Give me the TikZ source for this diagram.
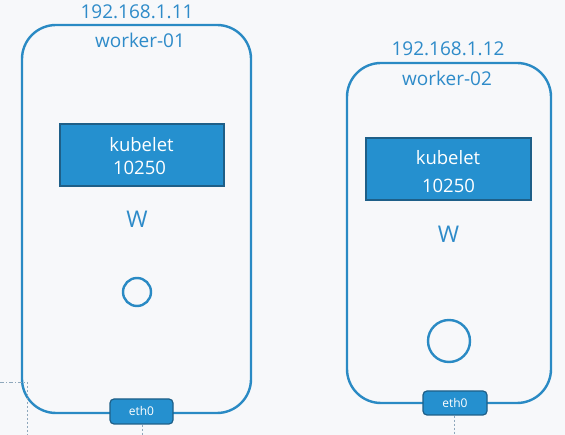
\documentclass[tikz,border=0pt]{standalone}
\usepackage{fontspec}
\setmainfont{Open Sans}
\definecolor{bg}{HTML}{F7F8FA}
\definecolor{line}{HTML}{2A8AC4}
\definecolor{txt}{HTML}{2E8BC9}
\definecolor{kfill}{HTML}{2590CF}
\definecolor{kedge}{HTML}{1E5F88}
\definecolor{dash}{HTML}{8FA8BC}
\tikzset{
  worker/.style={draw=line, line width=2.4pt, rounded corners=34pt, inner sep=0pt},
  kube/.style={draw=kedge, line width=1.2pt, fill=kfill, inner sep=0pt},
  eth/.style={draw=kedge, line width=1.2pt, fill=kfill, rounded corners=4pt, inner sep=0pt,
    text=white, font=\fontsize{12}{14}\selectfont},
  lbl/.style={text=txt, font=\fontsize{19}{22}\selectfont, anchor=base, inner sep=0pt},
  klbl/.style={text=white, font=\fontsize{18.5}{22}\selectfont, anchor=base, inner sep=0pt},
  wlbl/.style={text=txt, font=\fontsize{23}{26}\selectfont, anchor=base, inner sep=0pt},
  pod/.style={draw=line, line width=2.4pt, circle, inner sep=0pt},
  net/.style={draw=dash, line width=0.8pt, dash pattern=on 2pt off 2pt},
}
\begin{document}
\begin{tikzpicture}[x=1pt,y=-1pt]
\useasboundingbox (0,0) rectangle (565,435);
\fill[bg] (0,0) rectangle (565,435);
% worker boxes
\node[worker, minimum width=229pt, minimum height=388pt] (w1) at (136.5,219) {};
\node[worker, minimum width=204pt, minimum height=340pt] (w2) at (449,233) {};
% labels
\node[lbl] (ip1) at (137,19) {192.168.1.11};
\node[lbl] (n1) at (140,48) {worker-01};
\node[lbl] (ip2) at (448,56) {192.168.1.12};
\node[lbl] (n2) at (447,86) {worker-02};
% kubelets
\node[kube, minimum width=164pt, minimum height=62pt] (k1) at (142,155) {};
\node[klbl] (k1a) at (141.5,152) {kubelet};
\node[klbl] (k1b) at (139.5,175) {10250};
\node[kube, minimum width=165pt, minimum height=62pt] (k2) at (448.5,169) {};
\node[klbl] (k2a) at (448,165) {kubelet};
\node[klbl] (k2b) at (448.5,193) {10250};
% W
\node[wlbl] (wa) at (137,228) {W};
\node[wlbl] (wb) at (448.5,243) {W};
% pods
\node[pod, minimum size=28pt] (p1) at (137,292) {};
\node[pod, minimum size=42pt] (p2) at (449,341) {};
% eth0
\node[eth, minimum width=63pt, minimum height=25pt] (e1) at (141.5,411.5) {eth0};
\node[eth, minimum width=64pt, minimum height=24pt] (e2) at (455,403) {eth0};
% network lines
\coordinate (b1) at (142,435);
\coordinate (b2) at (454,435);
\coordinate (l0) at (0,382);
\coordinate (lc) at (27,382);
\coordinate (lb) at (27,435);
\draw[net] (e1.south -| b1) -- (b1);
\draw[net] (e2.south -| b2) -- (b2);
\draw[draw=dash, line width=0.8pt, dash pattern=on 4pt off 2pt on 1pt off 2pt] (l0) -- (lc);
\draw[net] (lc) -- (lb);
\end{tikzpicture}
\end{document}
